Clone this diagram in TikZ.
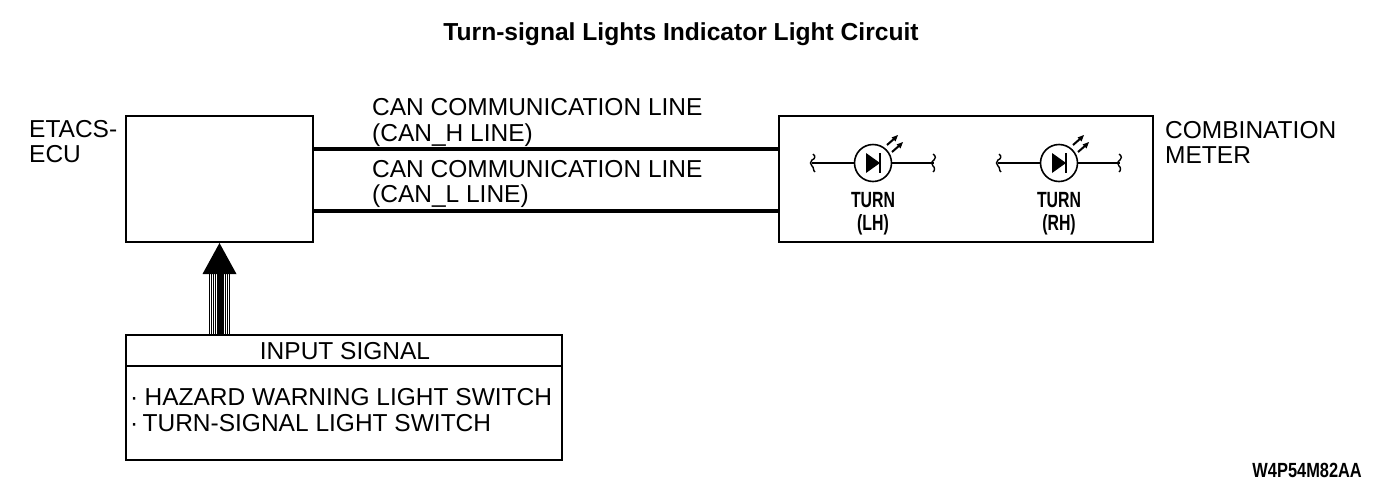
\documentclass[tikz,border=0pt]{standalone}
\usepackage{fontspec}
\setmainfont{Liberation Sans}
\usetikzlibrary{calc}
\tikzset{
  x=1pt,y=-1pt,
  boxn/.style={draw,line width=2pt,minimum width=0,inner sep=0pt,rectangle},
  lbl/.style={inner sep=0pt,align=left,anchor=base west,font=\fontsize{24.5}{26}\selectfont},
  turnlbl/.style={inner sep=0pt,align=center,anchor=base,font=\bfseries\fontsize{22}{23}\selectfont,xscale=.72},
  busline/.style={line width=4pt},
  wire/.style={line width=2pt},
  ledc/.style={circle,draw,line width=1.6pt,minimum size=37pt,inner sep=0pt},
  pics/led/.style={code={
    \node[ledc] (#1) at (0,0) {};
    \coordinate (#1w) at (-61,0);
    \coordinate (#1e) at (61,0);
    \draw[wire] (#1w) -- (#1) (#1) -- (#1e);
    \draw[line width=1.4pt] (-60,-9) .. controls (-57,-7) and (-58,-4) .. (-61,-3) .. controls (-63,-1) and (-63,1) .. (-61,3) .. controls (-59,4) and (-60,8) .. (-58,9);
    \draw[line width=1.4pt] (60,-9) .. controls (63,-7) and (63,-4) .. (61,-3) .. controls (58,-1) and (58,1) .. (60,3) .. controls (62,4) and (62,8) .. (60,9);
    \fill (-7,-10) -- (7,0) -- (-7,10) -- cycle;
    \draw[wire] (7,-10) -- (7,10);
    \draw[line width=2pt] (14,-18) -- (22,-25);
    \fill (25,-28) -- (18.5,-25.5) -- (22.5,-21.5) -- cycle;
    \draw[line width=2pt] (19,-11) -- (27,-18);
    \fill (30,-21) -- (23.5,-18.5) -- (27.5,-14.5) -- cycle;
  }}
}
\begin{document}
\begin{tikzpicture}
\useasboundingbox (0,0) rectangle (1392,496);
\node[inner sep=0pt,font=\bfseries\fontsize{24.6}{26}\selectfont] (title) at (681,34) {Turn-signal Lights Indicator Light Circuit};
\node[boxn,minimum width=187pt,minimum height=126pt] (ecu) at (219.5,179) {};
\node[boxn,minimum width=374pt,minimum height=126pt] (meter) at (966,179) {};
\node[boxn,minimum width=436pt,minimum height=125pt] (input) at (344,397.5) {};
\coordinate (divL) at (input.north west |- 0,366);
\coordinate (divR) at (input.north east |- 0,366);
\draw[line width=1.5pt] (divL) -- (divR);
\node[lbl] (etacs) at (29,137) {ETACS-};
\node[lbl] (ecutxt) at (29,162) {ECU};
\node[lbl] (c1) at (372,115) {CAN COMMUNICATION LINE};
\node[lbl] (c2) at (372,141) {(CAN\_H LINE)};
\node[lbl] (c3) at (372,177) {CAN COMMUNICATION LINE};
\node[lbl] (c4) at (372,202) {(CAN\_L LINE)};
\node[lbl] (comb) at (1165,138) {COMBINATION};
\node[lbl] (mtxt) at (1165,163) {METER};
\draw[busline] (ecu.east |- 0,149) -- (meter.west |- 0,149);
\draw[busline] (ecu.east |- 0,211) -- (meter.west |- 0,211);
\pic at (873,163) {led=la};
\pic at (1059,163) {led=lb};
\node[turnlbl] (t1a) at (873,207) {TURN};
\node[turnlbl] (t1b) at (873,230) {(LH)};
\node[turnlbl] (t2a) at (1059,207) {TURN};
\node[turnlbl] (t2b) at (1059,230) {(RH)};
% multi-line input arrow
\coordinate (st) at (219.5,334);
\coordinate (sh) at (219.5,273);
\foreach \d/\w in {-10/.8,-8/.8,-6/.8,-4/.8,-2/1,-0.5/2,1/2,2.5/1,4/.8,6/.8,8/.8,10/.8}
  \draw[line width=\w pt] ($(st)+(\d,0)$) -- ($(sh)+(\d,0)$);
\fill (ecu.south -| sh) -- ($(sh)+(17,1)$) -- ($(sh)+(-17,1)$) -- cycle;
\node[lbl,anchor=base] (ist) at (345,359) {INPUT SIGNAL};
\node[lbl] (i1) at (130,405) {·\hspace{-0.5pt} HAZARD WARNING LIGHT SWITCH};
\node[lbl] (i2) at (130,431) {·\hspace{-2.5pt} TURN-SIGNAL LIGHT SWITCH};
\node[inner sep=0pt,anchor=base east,font=\bfseries\fontsize{20.5}{22}\selectfont,xscale=.8] (code) at (1362,477) {W4P54M82AA};
\end{tikzpicture}
\end{document}
